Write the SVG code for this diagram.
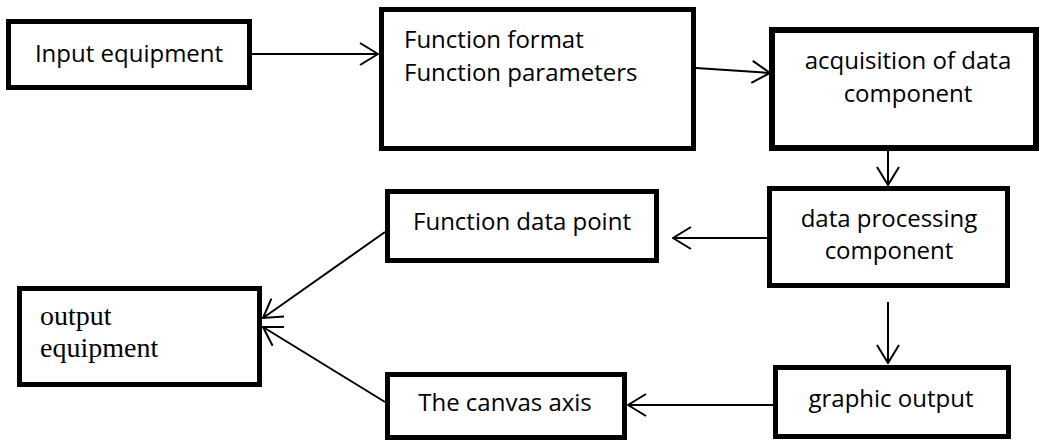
<svg xmlns="http://www.w3.org/2000/svg" width="1039" height="441" viewBox="0 0 1039 441">
<style>
.box{fill:#fff;stroke:#000;stroke-width:5}
.t{font-family:"Open Sans","Liberation Sans",sans-serif;font-size:24px;fill:#000}
.s{font-family:"Liberation Serif","Times New Roman",serif;font-size:28px;fill:#000}
.c{fill:none;stroke:#000;stroke-width:2}
</style>
<defs>
<marker id="arr" viewBox="0 0 20 24" refX="19" refY="12" markerWidth="20" markerHeight="24" markerUnits="userSpaceOnUse" orient="auto">
<path d="M1,1 L19,12 L1,23" fill="none" stroke="#000" stroke-width="2"/>
</marker>
</defs>
<rect width="1039" height="441" fill="#fff"/>
<g id="connectors">
<line class="c" x1="252" y1="54" x2="378" y2="54" marker-end="url(#arr)"/>
<line class="c" x1="696" y1="68" x2="770" y2="73" marker-end="url(#arr)"/>
<line class="c" x1="888" y1="151" x2="888" y2="185" marker-end="url(#arr)"/>
<line class="c" x1="767" y1="238" x2="673" y2="238" marker-end="url(#arr)"/>
<line class="c" x1="888" y1="302" x2="888" y2="363" marker-end="url(#arr)"/>
<line class="c" x1="773" y1="405" x2="628" y2="405" marker-end="url(#arr)"/>
<line class="c" x1="385" y1="232" x2="263" y2="318" marker-end="url(#arr)"/>
<line class="c" x1="385" y1="402" x2="263" y2="327" marker-end="url(#arr)"/>
</g>
<g id="input-equipment">
<rect class="box" x="8.5" y="21.5" width="241" height="66"/>
<text class="t" x="129" y="62" text-anchor="middle">Input equipment</text>
</g>
<g id="function-format">
<rect class="box" x="381.5" y="9.5" width="312" height="139"/>
<text class="t" x="404" y="48">Function format</text>
<text class="t" x="404" y="81">Function parameters</text>
</g>
<g id="acquisition">
<rect class="box" x="772" y="30" width="264" height="118" style="stroke-width:6"/>
<text class="t" x="908" y="69" text-anchor="middle">acquisition of data</text>
<text class="t" x="908" y="102" text-anchor="middle">component</text>
</g>
<g id="data-processing">
<rect class="box" x="769.5" y="188.5" width="238" height="97"/>
<text class="t" x="889" y="227" text-anchor="middle">data processing</text>
<text class="t" x="889" y="259" text-anchor="middle">component</text>
</g>
<g id="function-data-point">
<rect class="box" x="387.5" y="191.5" width="269" height="69"/>
<text class="t" x="522" y="230" text-anchor="middle">Function data point</text>
</g>
<g id="output-equipment">
<rect class="box" x="19.5" y="288.5" width="240" height="96"/>
<text class="s" x="40" y="325">output</text>
<text class="s" x="40" y="357">equipment</text>
</g>
<g id="canvas-axis">
<rect class="box" x="387.5" y="374.5" width="237" height="63"/>
<text class="t" x="505" y="411" text-anchor="middle">The canvas axis</text>
</g>
<g id="graphic-output">
<rect class="box" x="775.5" y="367.5" width="233" height="69"/>
<text class="t" x="891" y="407" text-anchor="middle">graphic output</text>
</g>
</svg>
